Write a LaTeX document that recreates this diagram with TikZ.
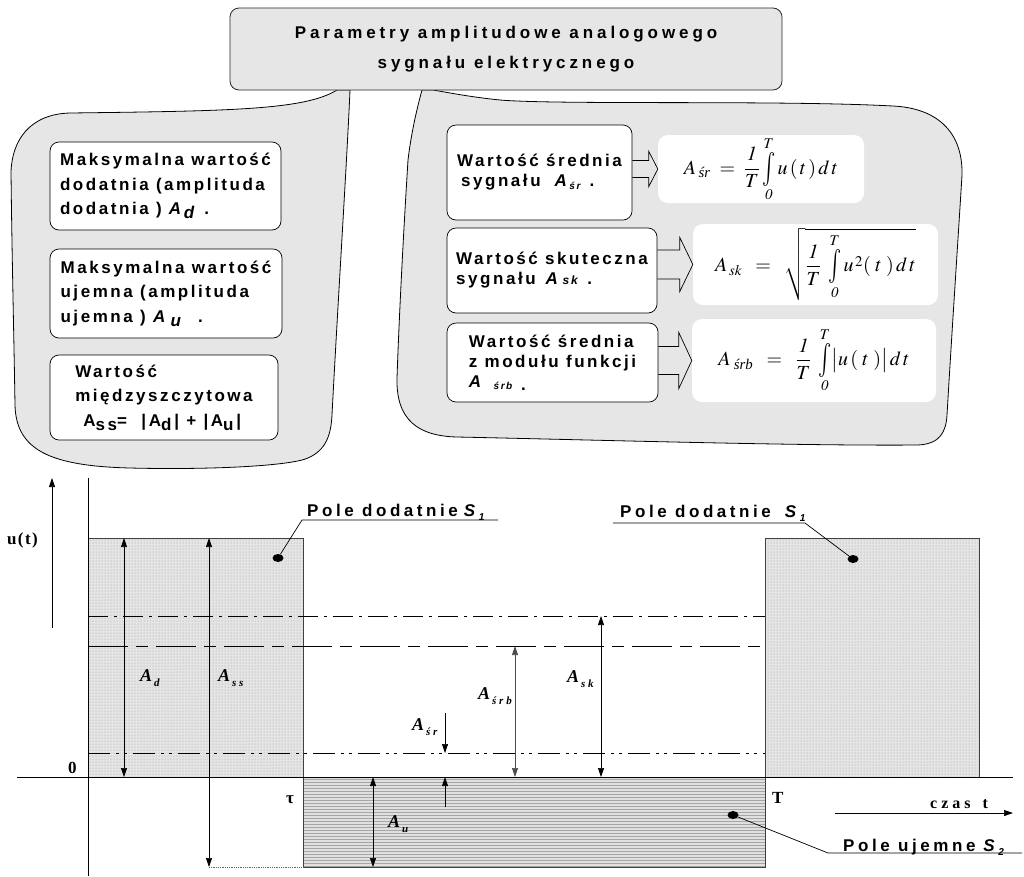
\documentclass[tikz,border=0pt]{standalone}
\usepackage{amsmath}
\usepackage{mathptmx}
\usepackage{fontspec}
\setmainfont{Liberation Serif}
\newfontfamily\boxfont{Liberation Sans}[LetterSpace=15]
\newfontfamily\titlefont{Liberation Sans}[LetterSpace=23]
\newfontfamily\labelfont{Liberation Sans}[LetterSpace=21]
\newfontfamily\wideserif{Liberation Serif}[LetterSpace=25]
\newfontfamily\axisserif{Liberation Serif}[LetterSpace=8]
\usetikzlibrary{arrows.meta, positioning, calc, patterns, shapes.geometric}
\definecolor{bubbleGray}{RGB}{230,230,230}
\newcommand{\gsym}[2]{{\bfseries\itshape #1\hspace{2pt}\raisebox{-5pt}{\wideserif\fontsize{11}{11}\selectfont\bfseries\itshape #2}}}
\newcommand{\tint}{\mathop{\vcenter{\hbox{\scalebox{1.1}[1.7]{$\textstyle\int$}}}}\limits}
\tikzset{
    bubble/.style={draw=black, fill=bubbleGray, line width=0.8pt},
    titlebox/.style={draw=black!85, fill=bubbleGray, rounded corners=9pt, line width=0.8pt,
        minimum width=552pt, minimum height=82pt, align=center,
        font=\titlefont\bfseries\fontsize{17}{30}\selectfont},
    leftbox/.style={draw=black, fill=white, rounded corners=9pt, line width=0.7pt,
        inner sep=0pt, align=left, font=\boxfont\bfseries\fontsize{17}{24.5}\selectfont},
    rightbox/.style={leftbox, font=\boxfont\bfseries\fontsize{17}{20}\selectfont},
    formbox/.style={fill=white, rounded corners=10pt, inner sep=0pt,
        font=\fontsize{20}{24}\selectfont},
    blockArrow/.style={draw=black, line width=0.7pt, line join=miter},
    area/.style={draw=black!75, line width=0.8pt},
    measure/.style={line width=0.7pt, {Triangle[width=6pt,length=9pt]}-{Triangle[width=6pt,length=9pt]}},
    pointer/.style={line width=0.7pt, -{Triangle[width=6pt,length=9pt]}},
    rmsLine/.style={line width=0.9pt, dash pattern=on 20pt off 6pt on 3pt off 6pt},
    absLine/.style={line width=0.9pt, dash pattern=on 40pt off 8pt on 12pt off 8pt},
    avgLine/.style={line width=0.9pt, dash pattern=on 22pt off 6pt on 3pt off 5pt on 3pt off 6pt},
    glabel/.style={anchor=base west, inner sep=0pt, font=\fontsize{18}{18}\selectfont},
    plabel/.style={anchor=base west, inner sep=0pt, font=\labelfont\bfseries\fontsize{17}{17}\selectfont},
    dotmark/.style={ellipse, fill=black, minimum width=11pt, minimum height=8pt, inner sep=0pt},
}

\begin{document}
\begin{tikzpicture}[x=1pt, y=-1pt]
    \useasboundingbox (0,0) rectangle (1024,876);

    % Bubbles
    \draw[bubble] (337,90) .. controls (305,110) and (230,111) .. (70,113)
        .. controls (30,114) and (12,140) .. (11,172)
        .. controls (12,260) and (14,340) .. (15,405)
        .. controls (16,450) and (50,466) .. (130,468)
        .. controls (210,470) and (290,466) .. (308,458)
        .. controls (326,450) and (331,435) .. (332,415)
        .. controls (338,300) and (347,160) .. (350,90) -- cycle;
    \draw[bubble] (422,90) .. controls (416,112) and (411,135) .. (408,160)
        .. controls (403,240) and (399,320) .. (397,378)
        .. controls (396,420) and (418,436) .. (457,437)
        .. controls (600,440) and (800,446) .. (918,445)
        .. controls (940,444) and (946,432) .. (947,415)
        .. controls (952,330) and (958,240) .. (962,175)
        .. controls (963,130) and (935,108) .. (893,106)
        .. controls (780,100) and (560,105) .. (500,100)
        .. controls (470,97) and (445,92) .. (433,90) -- cycle;

    % Title
    \node[titlebox] (title) at (506,49) {Parametry amplitudowe analogowego\\sygnału elektrycznego};

    % Left boxes
    \node[leftbox, minimum width=231pt, minimum height=88pt] (maxPos) at (165.5,186)
        {Maksymalna wartość\\dodatnia (amplituda\\dodatnia ) \textit{A}\raisebox{-4pt}{\textit{d}} .};
    \node[leftbox, minimum width=232pt, minimum height=89pt] (maxNeg) at (166,293.5)
        {Maksymalna wartość\\ujemna (amplituda\\ujemna ) \textit{A}\,\raisebox{-4pt}{\textit{u}}\ \ .};
    \node[leftbox, minimum width=228pt, minimum height=85pt] (peakPeak) at (164,397.5)
        {Wartość\\międzyszczytowa\\\hspace*{8pt}A\raisebox{-4pt}{ss}= \ |A\raisebox{-4pt}{d}\,| + |A\raisebox{-4pt}{u}\,|};

    % Right boxes
    \node[rightbox, minimum width=185pt, minimum height=95pt] (avgText) at (539.5,172.5)
        {Wartość średnia\\\hspace*{4pt}sygnału\hspace{14pt}\textit{A}\raisebox{-3pt}{\fontsize{10}{10}\selectfont\textit{śr}} .};
    \node[rightbox, minimum width=210pt, minimum height=85pt] (rmsText) at (552,270.5)
        {Wartość skuteczna\\sygnału\hspace{10pt}\textit{A}\hspace{2pt}{\fontsize{12}{12}\selectfont\textit{sk}} .};
    \node[rightbox, minimum width=211pt, minimum height=79pt] (absText) at (552.5,362.5)
        {Wartość średnia\\z modułu funkcji\\\textit{A}\hspace{10pt}\raisebox{-2pt}{\fontsize{10}{10}\selectfont\textit{śrb}} \raisebox{-3pt}{.}};

    % Formulas
    \node[formbox, minimum width=206pt, minimum height=68pt] (avgForm) at (761,169)
        {$\displaystyle A_{\text{\itshape\,śr}} \;=\; \frac{\mathit{1}}{T}\tint_{\mathit{0}}^{T} u\,(\,t\,)\,d\,t$};
    \node[formbox, minimum width=245pt, minimum height=81pt] (rmsForm) at (815.5,264.5)
        {$\displaystyle A_{\,sk} \;\;=\;\; \sqrt{\frac{\mathit{1}}{T}\;\tint_{\mathit{0}}^{T} u^{\,2}(\;t\;)\,d\,t}$};
    \node[formbox, minimum width=244pt, minimum height=83pt] (absForm) at (814,360.5)
        {$\displaystyle A_{\;\text{\itshape śrb}} \;\;=\;\; \frac{\mathit{1}}{T}\;\tint_{\mathit{0}}^{T} \bigl|u\,(\;t\;)\bigr|\,d\,t$};

    % Block arrows
    \foreach \src/\dst/\sh/\hh/\hl in {avgText/avgForm/8.5/17.5/9,
            rmsText/rmsForm/14.5/27/13, absText/absForm/14/28/13} {
        \draw[blockArrow] ($(\src.east |- \dst.west)+(0,-\sh)$)
            -- ($(\dst.west)+(-\hl,-\sh)$) -- ($(\dst.west)+(-\hl,-\hh)$)
            -- (\dst.west)
            -- ($(\dst.west)+(-\hl,\hh)$) -- ($(\dst.west)+(-\hl,\sh)$)
            -- ($(\src.east |- \dst.west)+(0,\sh)$);
    }

    % Areas
    \fill[black!10] (88,538) rectangle (303,777);
    \fill[pattern=dots, pattern color=black!40] (88,538) rectangle (303,777);
    \fill[black!12] (303,777) rectangle (765,867);
    \fill[pattern=horizontal lines, pattern color=black!35] (303,777) rectangle (765,867);
    \fill[black!10] (765,538) rectangle (979,777);
    \fill[pattern=dots, pattern color=black!40] (765,538) rectangle (979,777);
    \draw[area] (88,538) -- (303,538) -- (303,867) -- (765,867) -- (765,538) -- (979,538) -- (979,777);

    % Axes
    \draw[line width=0.8pt] (17,777) -- (1013,777);
    \draw[line width=0.8pt] (88,478) -- (88,876);
    \draw[pointer] (52,628) -- (52,478);
    \draw[pointer] (835,813) -- (1013,813);

    % Levels
    \draw[rmsLine] (88,616) -- (765,616);
    \draw[absLine] (88,646) -- (765,646);
    \draw[avgLine] (88,753) -- (765,753);

    % Measures
    \draw[measure] (124,538) -- (124,777);
    \draw[measure] (209,538) -- (209,867);
    \draw[black!60, densely dotted, line width=0.8pt] (209,867) -- (303,867);
    \draw[measure] (373,777) -- (373,867);
    \draw[pointer] (445,713) -- (445,753);
    \draw[pointer] (445,807) -- (445,777);
    \draw[measure, black!70] (515,646) -- (515,777);
    \draw[measure] (601,616) -- (601,777);

    \node[glabel] (lblAd) at (140,681) {\gsym{A}{d}};
    \node[glabel] (lblAss) at (218,681) {\gsym{A}{ss}};
    \node[glabel] (lblAu) at (388,827) {\gsym{A}{u}};
    \node[glabel] (lblAsr) at (412,730) {\gsym{A}{śr}};
    \node[glabel] (lblAsrb) at (478,699) {\gsym{A}{śrb}};
    \node[glabel] (lblAsk) at (567,682) {\gsym{A}{sk}};

    \node[glabel, font=\bfseries\fontsize{17}{17}\selectfont] (zero) at (68,773) {0};
    \node[glabel, font=\bfseries\fontsize{17}{17}\selectfont] (tau) at (286,803) {τ};
    \node[glabel, font=\bfseries\fontsize{17}{17}\selectfont] (period) at (772,803) {T};
    \node[glabel, font=\axisserif\bfseries\fontsize{17}{17}\selectfont] (uAxis) at (7,544) {u(t)};
    \node[glabel, font=\wideserif\bfseries\fontsize{16}{16}\selectfont] (tAxis) at (930,808) {czas\hspace{12pt}t};

    % Area labels
    \node[plabel] (posLeft) at (307,516)
        {Pole dodatnie\hspace{6pt}\textit{S}\raisebox{-4pt}{\fontsize{10}{10}\selectfont\textit{1}}};
    \node[plabel] (posRight) at (620,517)
        {Pole dodatnie\hspace{14pt}\textit{S}\raisebox{-4pt}{\fontsize{10}{10}\selectfont\textit{1}}};
    \node[plabel] (negArea) at (843,851)
        {Pole ujemne\hspace{8pt}\textit{S}\raisebox{-4pt}{\fontsize{10}{10}\selectfont\textit{2}}};

    \node[dotmark] (dotLeft) at (278,558) {};
    \node[dotmark] (dotRight) at (853,559) {};
    \node[dotmark] (dotNeg) at (733,815) {};

    \coordinate (ulLeftA) at (302,520);
    \coordinate (ulLeftB) at (498,520);
    \coordinate (ulRightA) at (613,523);
    \coordinate (ulRightB) at (805,523);
    \coordinate (ulNegA) at (828,853);
    \coordinate (ulNegB) at (1022,853);
    \draw[line width=0.7pt] (ulLeftB) -- (ulLeftA) -- (dotLeft);
    \draw[line width=0.7pt] (ulRightA) -- (ulRightB) -- (dotRight);
    \draw[line width=0.7pt] (ulNegB) -- (ulNegA) -- (dotNeg);

\end{tikzpicture}
\end{document}
